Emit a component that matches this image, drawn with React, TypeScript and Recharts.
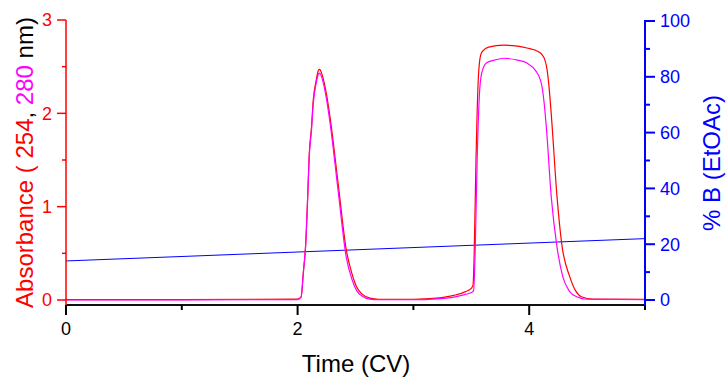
import React from 'react';
import { ComposedChart, Line, XAxis, YAxis } from 'recharts';

// Time (CV) and absorbance at 254 nm
const time254 = [0, 1.0, 2.0, 2.03, 2.05, 2.07, 2.09, 2.1, 2.12, 2.135, 2.16, 2.18, 2.19, 2.21, 2.25, 2.28, 2.35, 2.42, 2.47, 2.51, 2.56, 2.625, 2.7, 3.0, 3.2, 3.35, 3.45, 3.5, 3.515, 3.525, 3.54, 3.56, 3.58, 3.6, 3.65, 3.78, 3.9, 3.98, 4.08, 4.11, 4.13, 4.15, 4.17, 4.19, 4.24, 4.28, 4.35, 4.4, 4.45, 4.55, 5.0];
const abs254 = [0.005, 0.005, 0.01, 0.03, 0.3, 0.6, 1.2, 1.55, 1.85, 2.14, 2.35, 2.46, 2.47, 2.42, 2.2, 1.96, 1.25, 0.54, 0.28, 0.14, 0.06, 0.02, 0.008, 0.008, 0.02, 0.05, 0.09, 0.125, 0.16, 0.5, 1.47, 2.36, 2.62, 2.67, 2.71, 2.73, 2.72, 2.7, 2.66, 2.63, 2.59, 2.5, 2.3, 2.0, 1.11, 0.61, 0.25, 0.1, 0.035, 0.01, 0.008];

// Time (CV) and absorbance at 280 nm
const time280 = [0, 1.0, 2.0, 2.03, 2.05, 2.07, 2.09, 2.1, 2.12, 2.135, 2.16, 2.18, 2.19, 2.21, 2.25, 2.28, 2.35, 2.42, 2.47, 2.51, 2.56, 2.62, 2.7, 3.0, 3.2, 3.35, 3.45, 3.5, 3.52, 3.535, 3.55, 3.57, 3.59, 3.63, 3.7, 3.78, 3.9, 3.98, 4.06, 4.09, 4.11, 4.13, 4.15, 4.19, 4.24, 4.29, 4.35, 4.41, 4.5, 5.0];
const abs280 = [0.0, 0.0, 0.005, 0.03, 0.3, 0.6, 1.2, 1.52, 1.82, 2.1, 2.32, 2.42, 2.43, 2.38, 2.15, 1.9, 1.17, 0.46, 0.22, 0.1, 0.04, 0.01, 0.003, 0.003, 0.012, 0.03, 0.06, 0.08, 0.1, 0.6, 1.47, 2.2, 2.43, 2.54, 2.57, 2.59, 2.57, 2.54, 2.45, 2.38, 2.29, 2.1, 1.82, 1.11, 0.57, 0.25, 0.09, 0.035, 0.008, 0.003];

// Gradient %B (EtOAc)
const timeB = [0, 5];
const percentB = [14, 22];

const xTicks = [0, 1, 2, 3, 4, 5];
const leftTicks = [0, 0.5, 1, 1.5, 2, 2.5, 3];
const rightTicks = [0, 10, 20, 30, 40, 50, 60, 70, 80, 90, 100];

const data254 = time254.map((t, i) => ({ t, a: abs254[i] }));
const data280 = time280.map((t, i) => ({ t, a: abs280[i] }));
const dataB = timeB.map((t, i) => ({ t, b: percentB[i] }));

const FONT = '"Liberation Sans", Arial, sans-serif';

const LeftTick = (props: any) => {
  const { x, y, payload } = props;
  const v = payload.value;
  const major = Number.isInteger(v);
  return (
    <g>
      <line x1={x} x2={x - (major ? 9 : 4)} y1={y} y2={y} stroke="#ff0000" strokeWidth={1.5} />
      {major && (
        <text x={x - 14} y={y} dy="0.36em" textAnchor="end" fill="#ff0000" fontSize={18} fontFamily={FONT}>
          {v}
        </text>
      )}
    </g>
  );
};

const RightTick = (props: any) => {
  const { x, y, payload } = props;
  const v = payload.value;
  const major = v % 20 === 0;
  return (
    <g>
      <line x1={x} x2={x + (major ? 10 : 5)} y1={y} y2={y} stroke="#0000ff" strokeWidth={2} />
      {major && (
        <text x={x + 15} y={y} dy="0.36em" textAnchor="start" fill="#0000ff" fontSize={18} fontFamily={FONT}>
          {v}
        </text>
      )}
    </g>
  );
};

const BottomTick = (props: any) => {
  const { x, y, payload } = props;
  const v = payload.value;
  const major = v % 2 === 0;
  return (
    <g>
      <line x1={x} x2={x} y1={y} y2={y + (major ? 10 : 5)} stroke="#000000" strokeWidth={2} />
      {major && (
        <text x={x} y={y + 30} textAnchor="middle" fill="#000000" fontSize={18} fontFamily={FONT}>
          {v}
        </text>
      )}
    </g>
  );
};

const LeftTitle = () => (
  <text
    x={33}
    y={162.5}
    transform="rotate(-90 33 162.5)"
    textAnchor="middle"
    fontSize={24}
    fontFamily={FONT}
  >
    <tspan fill="#ff0000">Absorbance ( 254</tspan>
    <tspan fill="#000000">, </tspan>
    <tspan fill="#ff00ff">280</tspan>
    <tspan fill="#000000"> nm)</tspan>
  </text>
);

const RightTitle = () => (
  <text
    x={720}
    y={163}
    transform="rotate(-90 720 163)"
    textAnchor="middle"
    fontSize={24}
    fontFamily={FONT}
    fill="#0000ff"
  >
    % B (EtOAc)
  </text>
);

const BottomTitle = () => (
  <text x={356} y={372} textAnchor="middle" fontSize={24} fontFamily={FONT} fill="#000000">
    Time (CV)
  </text>
);

export default function App() {
  return (
    <div style={{ position: 'absolute', left: 0, top: 0, width: 728, height: 377, background: '#fff' }}>
      <ComposedChart width={728} height={377} margin={{ top: 20, right: 10, bottom: 22, left: 10 }}>
        <XAxis
          xAxisId="x"
          type="number"
          dataKey="t"
          domain={[0, 5]}
          ticks={xTicks}
          interval={0}
          allowDataOverflow
          height={50}
          tickSize={0}
          tickMargin={0}
          tickLine={false}
          axisLine={{ stroke: '#111', strokeWidth: 2 }}
          tick={<BottomTick />}
          label={{ content: () => <BottomTitle /> }}
        />
        <YAxis
          yAxisId="left"
          orientation="left"
          width={56}
          domain={[-0.0536, 3]}
          ticks={leftTicks}
          interval={0}
          allowDataOverflow
          tickSize={0}
          tickMargin={0}
          tickLine={false}
          axisLine={{ stroke: '#ff0000', strokeWidth: 1.5 }}
          tick={<LeftTick />}
          label={{ content: () => <LeftTitle /> }}
        />
        <YAxis
          yAxisId="right"
          orientation="right"
          width={73}
          domain={[-1.79, 100.36]}
          ticks={rightTicks}
          interval={0}
          allowDataOverflow
          tickSize={0}
          tickMargin={0}
          tickLine={false}
          axisLine={{ stroke: '#0000ff', strokeWidth: 2 }}
          tick={<RightTick />}
          label={{ content: () => <RightTitle /> }}
        />
        <Line
          xAxisId="x"
          yAxisId="right"
          data={dataB}
          dataKey="b"
          type="linear"
          stroke="#0000ff"
          strokeWidth={1}
          dot={false}
          isAnimationActive={false}
        />
        <Line
          xAxisId="x"
          yAxisId="left"
          data={data254}
          dataKey="a"
          type="monotone"
          stroke="#ff0000"
          strokeWidth={1.2}
          dot={false}
          isAnimationActive={false}
        />
        <Line
          xAxisId="x"
          yAxisId="left"
          data={data280}
          dataKey="a"
          type="monotone"
          stroke="#ff00ff"
          strokeWidth={1.2}
          dot={false}
          isAnimationActive={false}
        />
      </ComposedChart>
    </div>
  );
}
